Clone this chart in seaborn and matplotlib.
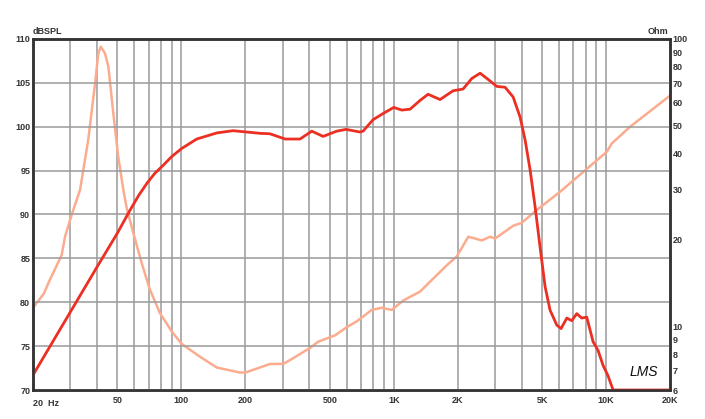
import numpy as np
import pandas as pd
import seaborn as sns
from matplotlib import pyplot as plt
from matplotlib.ticker import FixedLocator, NullLocator

# Frequency response (dB SPL).
spl_freq = [20, 30, 40, 50, 57, 63, 69, 75, 82, 90, 100, 118, 147, 175, 235, 261, 308, 362,
            411, 465, 539, 596, 694, 717, 799, 890, 1000, 1091, 1194, 1330, 1451, 1652, 1903,
            2121, 2331, 2551, 2781, 3057, 3344, 3648, 3936, 4155, 4386, 4631, 4887, 5160,
            5447, 5859, 6138, 6532, 6892, 7276, 7681, 8110, 8686, 9170, 9681, 10220, 10790,
            15000, 20000]
spl_db = [71.7, 78.9, 84.0, 87.9, 90.4, 92.2, 93.6, 94.7, 95.6, 96.6, 97.5, 98.6, 99.3, 99.55,
          99.25, 99.2, 98.6, 98.6, 99.5, 98.9, 99.5, 99.7, 99.4, 99.5, 100.8, 101.5, 102.2,
          101.9, 102.0, 103.0, 103.7, 103.1, 104.1, 104.3, 105.5, 106.1, 105.4, 104.6, 104.5,
          103.4, 101.1, 98.5, 95.1, 90.9, 86.3, 81.8, 79.1, 77.4, 77.0, 78.2, 77.9, 78.7, 78.2,
          78.3, 75.5, 74.5, 72.8, 71.6, 70.0, 70.0, 70.0]

# Impedance (Ohm).
imp_freq = [20, 22.5, 24, 27.3, 28.3, 30.4, 33.3, 36.4, 39.2, 40.6, 41.7, 43.7, 45.3, 47.8,
            50.4, 53.3, 55.3, 59.4, 65, 71.1, 79.3, 90, 100, 122, 147, 189, 200, 261, 302, 325,
            403, 441, 529, 600, 669, 788, 878, 979, 1110, 1330, 1483, 1777, 1980, 2245, 2597,
            2843, 3000, 3660, 4000, 4716, 6075, 7818, 10080, 10640, 12980, 20000]
imp_ohm = [11.6, 13.0, 14.5, 17.7, 20.5, 24.4, 29.8, 44.5, 70, 89, 94, 89, 80, 55, 38.9, 29.8,
           25.7, 21.1, 16.6, 13.4, 11.1, 9.6, 8.7, 7.84, 7.18, 6.9, 6.9, 7.39, 7.4, 7.63, 8.4,
           8.84, 9.3, 9.92, 10.4, 11.4, 11.6, 11.4, 12.3, 13.2, 14.3, 16.3, 17.5, 20.5, 19.9,
           20.5, 20.2, 22.4, 22.9, 25.4, 29.4, 34.5, 40.5, 43.3, 49.5, 63.5]

x_grid = [30, 40, 50, 60, 70, 80, 90, 100, 200, 300, 400, 500, 600, 700, 800, 900,
          1000, 2000, 3000, 4000, 5000, 6000, 7000, 8000, 9000, 10000]
x_ticks = [50, 100, 200, 500, 1000, 2000, 5000, 10000, 20000]
x_labels = ['50', '100', '200', '500', '1K', '2K', '5K', '10K', '20K']
db_ticks = [70, 75, 80, 85, 90, 95, 100, 105, 110]
ohm_ticks = [6, 7, 8, 9, 10, 20, 30, 40, 50, 60, 70, 80, 90, 100]

sns.set_style('white')
plt.rcParams['font.family'] = ['Liberation Sans', 'DejaVu Sans']

RED = '#ec2f23'
SALMON = '#fbac8f'
GRID = '#9a9a9a'
DARK = '#333333'

fig = plt.figure(figsize=(7.05, 4.19), dpi=100)
ax_imp = fig.add_axes([33 / 705, 29 / 419, 637 / 705, 351 / 419])
ax_spl = ax_imp.twinx()

spl = pd.DataFrame({'freq': spl_freq, 'db': spl_db})
imp = pd.DataFrame({'freq': imp_freq, 'ohm': imp_ohm})

# Impedance on the bottom axes (right scale), SPL on top (left scale)
sns.lineplot(data=imp, x='freq', y='ohm', ax=ax_imp, color=SALMON, lw=1.8, sort=False)
sns.lineplot(data=spl, x='freq', y='db', ax=ax_spl, color=RED, lw=2.0, sort=False)

ax_imp.set_xscale('log')
ax_imp.set_xlim(20, 20000)
ax_imp.set_yscale('log')
ax_imp.set_ylim(6, 100)
ax_spl.set_ylim(70, 110)

# vertical grid on the lower axes, horizontal grid on the SPL axes
for f in x_grid:
    ax_imp.axvline(f, color=GRID, lw=1.1, zorder=0)
ax_spl.set_yticks(db_ticks)
ax_spl.grid(axis='y', color=GRID, lw=1.1)
ax_spl.set_axisbelow(True)

ax_imp.xaxis.set_major_locator(FixedLocator(x_ticks))
ax_imp.xaxis.set_minor_locator(NullLocator())
ax_imp.set_xticklabels(x_labels)
ax_imp.text(20, -0.025, '20  Hz', transform=ax_imp.get_xaxis_transform(), ha='left', va='top',
            fontsize=6.5, fontweight='bold', color=DARK)

ax_imp.yaxis.set_major_locator(FixedLocator(ohm_ticks))
ax_imp.yaxis.set_minor_locator(NullLocator())
ax_imp.set_yticklabels([str(t) for t in ohm_ticks])
ax_imp.yaxis.tick_right()
ax_spl.yaxis.tick_left()
ax_spl.set_yticklabels([str(t) for t in db_ticks])

for a in (ax_imp, ax_spl):
    a.set_xlabel('')
    a.set_ylabel('')
    a.tick_params(length=0, labelsize=6.5, labelcolor=DARK, pad=2)
    for lab in a.get_xticklabels() + a.get_yticklabels():
        lab.set_fontweight('bold')
    for s in a.spines.values():
        s.set_color(DARK)
        s.set_linewidth(1.8)
ax_imp.tick_params(axis='x', pad=4)

fig.text(33 / 705, 1 - 36 / 419, 'dBSPL', ha='left', va='bottom', fontsize=6.5,
         fontweight='bold', color=DARK)
fig.text(668 / 705, 1 - 36 / 419, 'Ohm', ha='right', va='bottom', fontsize=6.5,
         fontweight='bold', color=DARK)
ax_spl.text(15000, 71.3, 'LMS', ha='center', va='bottom', fontsize=10, style='italic',
            color='#111111')

fig.savefig('out.png', dpi=100)
